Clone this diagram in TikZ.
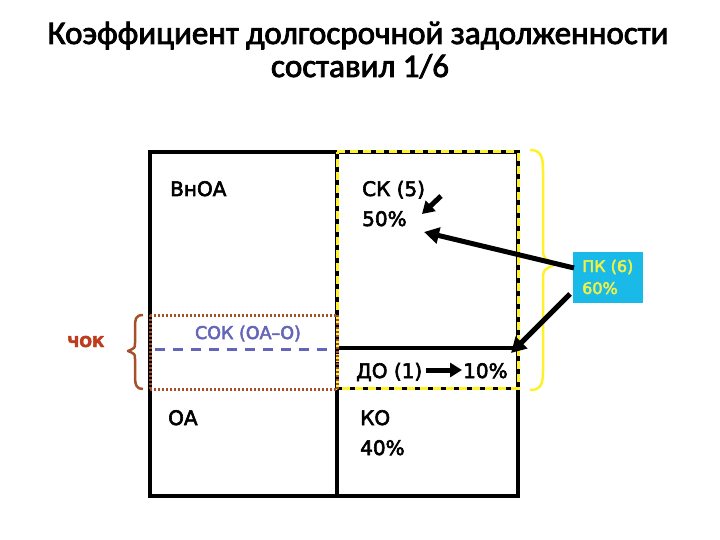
\documentclass[tikz,border=0pt]{standalone}
\usepackage{fontspec}
\setmainfont{DejaVu Sans}[FakeBold=3]
\newfontfamily\titlefont{Carlito}[FakeBold=2.5]
\usetikzlibrary{arrows.meta,calc}
\definecolor{ybox}{RGB}{255,240,40}
\definecolor{brn}{RGB}{165,80,40}
\definecolor{chok}{RGB}{190,60,30}
\definecolor{sok}{RGB}{100,100,185}
\definecolor{pkbg}{RGB}{25,185,232}
\definecolor{pktx}{RGB}{240,240,70}
\tikzset{
  lbl/.style={anchor=base west, inner sep=0pt, font=\fontsize{20}{24}\selectfont},
  frame/.style={line width=4.5pt, black},
  ydash/.style={line width=3pt, ybox, dash pattern=on 8pt off 5pt},
  bdot/.style={line width=3pt, brn, dash pattern=on 2pt off 2pt},
  bigarrow/.style={line width=5pt, black, -{Triangle[length=15pt,width=16pt]}},
  smallarrow/.style={line width=5pt, black, -{Triangle[length=12pt,width=14pt]}}
}
\begin{document}
\begin{tikzpicture}[x=1pt,y=-1pt]
\useasboundingbox (0,0) rectangle (720,540);
% title
\node[anchor=base, inner sep=0pt, font=\titlefont\fontsize{33}{38}\selectfont, text=black] (t1) at (358,44) {Коэффициент долгосрочной задолженности};
\node[anchor=base, inner sep=0pt, font=\titlefont\fontsize{33}{38}\selectfont, text=black] (t2) at (360,77) {составил 1/6};
% main frame
\draw[frame] (150,152) rectangle (518,496);
\draw[frame] (337,152) -- (337,496);
\draw[line width=4pt] (337,348) -- (518,348);
% yellow dashed rect (ПК)
\draw[line width=3pt] (337,388) -- (518,388);
\draw[ydash] (337,152) -- (518,152) -- (518,388) -- (337,388) -- cycle;
% brown dotted rect (ЧОК)
\draw[bdot] (150,315) -- (337,315);
\draw[bdot] (150,389) -- (337,389);
\draw[bdot] (150,315) -- (150,389);
\draw[bdot] (337,315) -- (337,389);
% blue dashed line
\draw[line width=3pt, sok, dash pattern=on 10pt off 8pt] (155,349) -- (335,349);
% braces
\draw[line width=2.5pt, brn, line join=round]
  (143,315) .. controls (135,315) and (135,320) .. (135,328) -- (135,343)
  .. controls (135,348) .. (128,351) .. controls (135,354) .. (135,359)
  -- (135,376) .. controls (135,386) and (137,389) .. (143,389);
\draw[line width=2.5pt, ybox, line join=round]
  (530,150) .. controls (541,150) and (543,157) .. (543,170) -- (543,248)
  .. controls (543,258) .. (556,264) .. controls (543,270) .. (543,280)
  -- (543,372) .. controls (543,385) and (540,390) .. (530,390);
% labels
\node[lbl] (vnoa) at (170,196) {ВнОА};
\node[lbl] (sk) at (362,196) {СК (5)};
\node[lbl] (sk50) at (362,226) {50\%};
\node[lbl] (oa) at (168,425) {ОА};
\node[lbl] (ko) at (360,425) {КО};
\node[lbl] (ko40) at (360,455) {40\%};
\node[lbl] (do) at (356,378) {ДО (1)};
\node[lbl] (do10) at (463,378) {10\%};
\node[anchor=base, inner sep=0pt, text=sok, font=\fontsize{17.5}{20}\selectfont] (sokl) at (248,339) {СОК (ОА–О)};
\node[anchor=base west, inner sep=0pt, text=chok, font=\bfseries\fontsize{15}{18}\selectfont] (chokl) at (67,347) {ЧОК};
\node[fill=pkbg, anchor=north west, minimum width=70pt, minimum height=51pt, inner sep=0pt] (pk) at (573,252) {};
\node[anchor=base west, inner sep=0pt, text=pktx, font=\fontsize{16}{20}\selectfont] (pkt1) at (582,272) {ПК (6)};
\node[anchor=base west, inner sep=0pt, text=pktx, font=\fontsize{16}{20}\selectfont] (pkt2) at (582,294) {60\%};
% arrows
\coordinate (a1) at (424,232);
\coordinate (a2) at (511,353);
\coordinate (p1) at (574,268);
\coordinate (p2) at (570,294);
\coordinate (s0) at (441,196);
\coordinate (s1) at (422,214);
\coordinate (d0) at (426,370);
\coordinate (d1) at (462,370);
\draw[bigarrow] (p1) -- (a1);
\draw[bigarrow] (p2) -- (a2);
\draw[smallarrow] (s0) -- (s1);
\draw[smallarrow] (d0) -- (d1);
\end{tikzpicture}
\end{document}
